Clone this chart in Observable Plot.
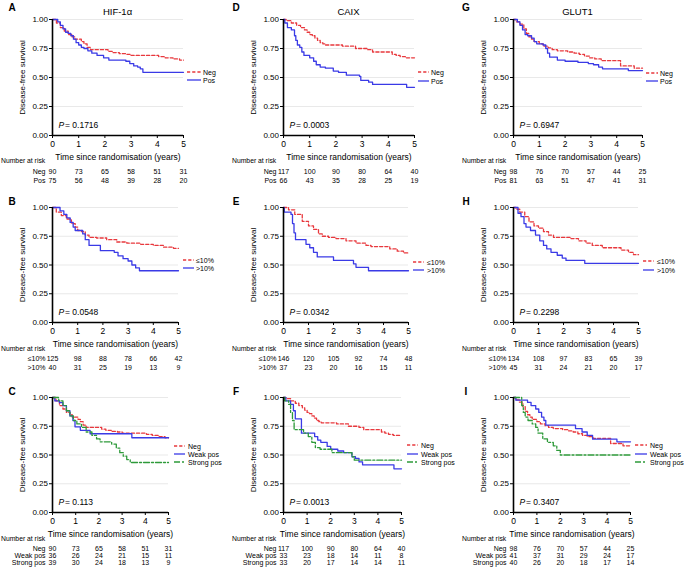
<!DOCTYPE html>
<html><head><meta charset="utf-8">
<script src="https://cdn.jsdelivr.net/npm/d3@7"></script>
<script src="https://cdn.jsdelivr.net/npm/@observablehq/plot@0.6"></script>
<style>
html,body{margin:0;padding:0;background:#fff;}
#root{position:relative;width:685px;height:569px;overflow:hidden;font-family:"Liberation Sans",Arial,sans-serif;color:#000;}
.abs{position:absolute;}
.txt{position:absolute;white-space:nowrap;line-height:1;transform:translateY(-50%);}
</style></head><body><div id="root"></div><script>
// ---------------- DATA ----------------
const riskTimes = [0, 1, 2, 3, 4, 5];
const labelsNegPos = ["Neg", "Pos"];
const labelsPct = ["\u226410%", ">10%"];
const labelsInt = ["Neg", "Weak pos", "Strong pos"];
const markerTitles = ["HIF-1\u03b1", "CAIX", "GLUT1"];
const panelLetters = ["A", "B", "C", "D", "E", "F", "G", "H", "I"];
const pValues = ["0.1716", "0.0548", "0.113", "0.0003", "0.0342", "0.0013", "0.6947", "0.2298", "0.3407"];

// HIF-1a
const hifNegT = [0,0.15,0.3,0.45,0.6,0.75,0.85,1.1,1.2,1.32,1.45,2.12,2.3,2.55,2.8,3.0,4.05,4.3,4.6,4.85,5];
const hifNegS = [1,0.97,0.93,0.90,0.87,0.85,0.83,0.81,0.79,0.76,0.74,0.725,0.715,0.705,0.70,0.69,0.68,0.67,0.66,0.65,0.65];
const hifPosT = [0,0.2,0.3,0.4,0.5,0.6,0.7,0.8,0.9,1.0,1.1,1.2,1.35,1.5,1.7,1.95,2.15,2.8,2.95,3.1,3.25,3.35,3.45,5];
const hifPosS = [1,0.98,0.95,0.92,0.89,0.88,0.86,0.83,0.80,0.78,0.76,0.75,0.73,0.71,0.69,0.67,0.65,0.64,0.62,0.60,0.59,0.575,0.545,0.545];
const hifLoT = [0,0.15,0.35,0.55,0.75,0.9,1.0,1.15,1.3,1.45,1.75,2.15,2.55,2.95,3.5,4.0,4.4,4.8,5];
const hifLoS = [1,0.96,0.93,0.90,0.86,0.83,0.80,0.79,0.76,0.74,0.735,0.72,0.70,0.69,0.68,0.67,0.655,0.645,0.645];
const hifHiT = [0,0.3,0.45,0.57,0.7,0.82,0.9,1.2,1.3,1.45,1.9,2.45,2.6,2.8,3.0,3.15,3.3,3.45,5];
const hifHiS = [1,0.97,0.94,0.91,0.87,0.83,0.80,0.77,0.72,0.67,0.625,0.61,0.58,0.555,0.535,0.50,0.475,0.45,0.45];
const hifWeakT = [0,0.1,0.3,0.45,0.6,0.75,0.88,0.97,1.2,1.62,3.42,5];
const hifWeakS = [1,0.97,0.955,0.93,0.885,0.84,0.80,0.745,0.715,0.685,0.65,0.65];
const hifStrongT = [0,0.27,0.45,0.6,0.75,0.9,1.05,1.25,1.45,1.7,1.9,2.05,2.55,2.75,2.9,3.05,3.2,3.35,5];
const hifStrongS = [1,0.97,0.93,0.885,0.84,0.80,0.77,0.74,0.70,0.67,0.64,0.615,0.595,0.56,0.52,0.49,0.46,0.435,0.435];

// CAIX
const caixNegT = [0,0.1,0.3,0.5,0.65,0.8,0.9,1.0,1.1,1.2,1.3,1.4,1.5,1.6,2.25,2.75,3.2,3.4,4.15,4.3,4.45,4.65,5];
const caixNegS = [1,0.99,0.97,0.95,0.93,0.91,0.89,0.87,0.86,0.84,0.82,0.80,0.79,0.78,0.77,0.75,0.74,0.72,0.70,0.69,0.68,0.67,0.67];
const caixPosT = [0,0.05,0.15,0.3,0.42,0.47,0.53,0.62,0.7,0.78,1.0,1.15,1.25,1.4,1.6,1.9,2.1,2.4,2.9,2.95,3.25,3.4,4.7,5];
const caixPosS = [1,0.97,0.93,0.91,0.86,0.82,0.78,0.76,0.72,0.69,0.67,0.64,0.61,0.59,0.58,0.555,0.545,0.52,0.51,0.475,0.46,0.44,0.415,0.415];
const caixLoT = [0,0.2,0.45,0.75,1.0,1.2,1.4,1.55,1.8,2.1,2.5,2.9,3.3,3.5,4.25,4.55,4.8,5];
const caixLoS = [1,0.98,0.94,0.88,0.84,0.81,0.77,0.75,0.74,0.73,0.71,0.69,0.67,0.66,0.64,0.62,0.605,0.605];
const caixHiT = [0,0.03,0.3,0.36,0.42,0.48,0.9,1.05,1.2,1.35,2.0,2.8,2.9,3.4,5];
const caixHiS = [1,0.96,0.94,0.86,0.78,0.72,0.68,0.65,0.61,0.57,0.54,0.51,0.48,0.45,0.45];
const caixWeakT = [0,0.1,0.3,0.42,0.5,0.76,1.32,1.45,1.58,1.85,2.0,2.3,2.55,2.9,3.05,3.2,3.35,4.68,5];
const caixWeakS = [1,0.97,0.94,0.885,0.815,0.69,0.66,0.63,0.61,0.575,0.55,0.535,0.52,0.485,0.47,0.44,0.415,0.38,0.38];
const caixStrongT = [0,0.05,0.22,0.3,0.38,0.45,0.85,1.05,1.2,1.35,1.55,2.05,2.9,3.0,5];
const caixStrongS = [1,0.97,0.94,0.87,0.80,0.72,0.69,0.66,0.61,0.565,0.55,0.52,0.485,0.455,0.455];

// GLUT1
const gluNegT = [0,0.1,0.25,0.4,0.5,0.6,0.7,0.8,1.0,1.15,1.35,1.5,1.7,2.1,2.35,2.55,2.75,2.95,3.15,3.4,4.15,4.68,5];
const gluNegS = [1,0.98,0.96,0.92,0.88,0.85,0.83,0.81,0.79,0.77,0.755,0.74,0.73,0.72,0.71,0.70,0.685,0.67,0.66,0.645,0.60,0.58,0.58];
const gluPosT = [0,0.15,0.25,0.35,0.45,0.55,0.7,0.8,0.9,1.15,1.25,1.32,1.4,1.7,2.0,2.5,2.9,3.1,3.3,3.45,4.45,5];
const gluPosS = [1,0.98,0.95,0.91,0.87,0.86,0.84,0.81,0.79,0.78,0.75,0.71,0.675,0.65,0.64,0.63,0.62,0.61,0.59,0.575,0.56,0.56];
const gluLoT = [0,0.1,0.25,0.45,0.62,0.82,1.0,1.2,1.4,1.6,2.3,2.6,2.9,3.15,3.55,4.3,4.6,4.8,5];
const gluLoS = [1,0.985,0.96,0.92,0.875,0.84,0.82,0.79,0.76,0.74,0.73,0.71,0.69,0.67,0.65,0.63,0.61,0.59,0.59];
const gluHiT = [0,0.18,0.3,0.42,0.5,0.68,0.88,1.05,1.2,1.33,1.5,1.75,1.95,2.1,2.85,5];
const gluHiS = [1,0.95,0.92,0.86,0.83,0.80,0.76,0.71,0.67,0.64,0.61,0.585,0.56,0.54,0.515,0.515];
const gluWeakT = [0,0.1,0.6,0.75,0.95,1.08,1.2,1.3,1.38,2.65,2.93,3.15,3.38,4.42,5];
const gluWeakS = [1,0.977,0.957,0.93,0.90,0.87,0.83,0.80,0.76,0.73,0.70,0.67,0.638,0.615,0.615];
const gluStrongT = [0,0.35,0.42,0.5,0.62,0.8,0.95,1.05,1.25,1.45,1.7,1.85,2.0,5];
const gluStrongS = [1,0.93,0.87,0.83,0.80,0.77,0.74,0.69,0.64,0.61,0.58,0.54,0.50,0.50];

// Numbers at risk
const riskA = [[90,73,65,58,51,31],[75,56,48,39,28,20]];
const riskB = [[125,98,88,78,66,42],[40,31,25,19,13,9]];
const riskC = [[90,73,65,58,51,31],[36,26,24,21,15,11],[39,30,24,18,13,9]];
const riskD = [[117,100,90,80,64,40],[66,43,35,28,25,19]];
const riskE = [[146,120,105,92,74,48],[37,23,20,16,15,11]];
const riskF = [[117,100,90,80,64,40],[33,23,18,14,11,8],[33,20,17,14,14,11]];
const riskG = [[98,76,70,57,44,25],[81,63,51,47,41,31]];
const riskH = [[134,108,97,83,65,39],[45,31,24,21,20,17]];
const riskI = [[98,76,70,57,44,25],[41,37,31,29,24,17],[40,26,20,18,17,14]];

// ---------------- LAYOUT / STYLE ----------------
const FONT = "Liberation Sans, Arial, Helvetica, sans-serif";
const seriesStyle = [
  {stroke: "#e8383d", dash: "3.2,2"},
  {stroke: "#3a3ae6", dash: null},
  {stroke: "#2e9a3a", dash: "6,2,2,2"}
];
const cols = [
  {base: 0, plotLeft: 52, hdrX: 1, letterX: 12},
  {base: 226, plotLeft: 283, hdrX: 232, letterX: 236},
  {base: 456, plotLeft: 513, hdrX: 462, letterX: 466}
];
const rows = [
  {top: 19, bottom: 135, hdrY: 161, riskY: 170, step: 9, letterY: 7.5},
  {top: 207, bottom: 322, hdrY: 349, riskY: 357.3, step: 9.4, letterY: 202},
  {top: 397, bottom: 512, hdrY: 539, riskY: 547.3, step: 7.7, letterY: 392}
];
const panels = [
  {col:0,row:0,right:183,labels:labelsNegPos,series:[[hifNegT,hifNegS],[hifPosT,hifPosS]],risk:riskA,leg:{x1:187,x2:201,tx:203,ys:[72,80]}},
  {col:0,row:1,right:178,labels:labelsPct,series:[[hifLoT,hifLoS],[hifHiT,hifHiS]],risk:riskB,leg:{x1:183,x2:194,tx:196,ys:[260,268]}},
  {col:0,row:2,right:168,labels:labelsInt,series:[[hifNegT,hifNegS],[hifWeakT,hifWeakS],[hifStrongT,hifStrongS]],risk:riskC,leg:{x1:174,x2:185,tx:188,ys:[445.7,454,462]}},
  {col:1,row:0,right:414,labels:labelsNegPos,series:[[caixNegT,caixNegS],[caixPosT,caixPosS]],risk:riskD,leg:{x1:418,x2:429,tx:431,ys:[72,81]}},
  {col:1,row:1,right:408,labels:labelsPct,series:[[caixLoT,caixLoS],[caixHiT,caixHiS]],risk:riskE,leg:{x1:413,x2:424,tx:427,ys:[262,270]}},
  {col:1,row:2,right:401,labels:labelsInt,series:[[caixNegT,caixNegS],[caixWeakT,caixWeakS],[caixStrongT,caixStrongS]],risk:riskF,leg:{x1:407,x2:418,tx:421,ys:[445,453.7,462]}},
  {col:2,row:0,right:642,labels:labelsNegPos,series:[[gluNegT,gluNegS],[gluPosT,gluPosS]],risk:riskG,leg:{x1:646,x2:658,tx:660,ys:[72.5,80.5]}},
  {col:2,row:1,right:638,labels:labelsPct,series:[[gluLoT,gluLoS],[gluHiT,gluHiS]],risk:riskH,leg:{x1:643,x2:654,tx:657,ys:[261,270]}},
  {col:2,row:2,right:630,labels:labelsInt,series:[[gluNegT,gluNegS],[gluWeakT,gluWeakS],[gluStrongT,gluStrongS]],risk:riskI,leg:{x1:635,x2:647,tx:650,ys:[445,454,462]}}
];

const root = document.getElementById("root");
function place(node, left, top) {
  const d = document.createElement("div");
  d.className = "abs"; d.style.left = left + "px"; d.style.top = top + "px";
  d.appendChild(node); root.appendChild(d); return d;
}
function label(text, x, y, opts = {}) {
  const d = document.createElement("div");
  d.className = "txt"; d.textContent = text;
  d.style.left = x + "px"; d.style.top = y + "px";
  d.style.fontSize = (opts.size || 8) + "px";
  if (opts.bold) d.style.fontWeight = "bold";
  if (opts.center) { d.style.transform = "translate(-50%,-50%)"; }
  root.appendChild(d); return d;
}

panels.forEach((p, i) => {
  const c = cols[p.col], r = rows[p.row];
  const mTop = 6, mBottom = 26, mRight = 6;
  const width = p.right - c.base + mRight;
  const mLeft = c.plotLeft - c.base;
  const height = (r.bottom - r.top) + mTop + mBottom;
  const marks = [
    Plot.gridY([0.25, 0.5, 0.75, 1], {stroke: "#e3e3e3", strokeOpacity: 1, strokeWidth: 0.8})
  ];
  p.series.forEach(([T, S], k) => {
    const data = T.map((t, j) => ({t, s: S[j]}));
    marks.push(Plot.line(data, {x: "t", y: "s", stroke: seriesStyle[k].stroke, strokeWidth: 1.3,
      strokeDasharray: seriesStyle[k].dash || undefined, curve: "step-after"}));
  });
  marks.push(
    Plot.ruleX([0], {strokeWidth: 1.6}),
    Plot.ruleY([0], {strokeWidth: 1.6}),
    Plot.axisX({ticks: riskTimes, tickFormat: d3.format("d"), tickSize: 3, tickPadding: 2, fontSize: 8.5,
      label: "Time since randomisation (years)", labelAnchor: "center", labelOffset: 24, labelArrow: "none"}),
    Plot.axisY({ticks: [0, 0.25, 0.5, 0.75, 1], tickFormat: d3.format(".2f"), tickSize: 3, tickPadding: 1.5, fontSize: 8,
      label: "Disease-free survival", labelAnchor: "center", labelOffset: 33, labelArrow: "none"}),
    Plot.text(["P"], {text: d => d, frameAnchor: "bottom-left", dx: 6, dy: -8, textAnchor: "start", fontStyle: "italic", fontSize: 8.5}),
    Plot.text([pValues[i]], {text: d => "= " + d, frameAnchor: "bottom-left", dx: 12.5, dy: -8, textAnchor: "start", fontSize: 8.5})
  );
  const km = Plot.plot({
    width, height, marginLeft: mLeft, marginRight: mRight, marginTop: mTop, marginBottom: mBottom,
    x: {domain: [0, 5]}, y: {domain: [0, 1]},
    style: {fontFamily: FONT, fontSize: "8px", background: "transparent", overflow: "visible"},
    marks
  });
  place(km, c.base, r.top - mTop);

  // risk table
  const n = p.labels.length;
  const riskData = [];
  p.risk.forEach((row, gi) => row.forEach((v, ti) => riskData.push({g: p.labels[gi], t: riskTimes[ti], n: v})));
  const rt = Plot.plot({
    width, height: n * r.step, marginLeft: mLeft, marginRight: mRight, marginTop: 0, marginBottom: 0,
    x: {domain: [0, 5], axis: null},
    y: {type: "point", domain: p.labels, padding: 0.5},
    style: {fontFamily: FONT, fontSize: "7px", background: "transparent", overflow: "visible"},
    marks: [
      Plot.text(riskData, {x: "t", y: "g", text: "n", fontSize: 7}),
      Plot.axisY({tickSize: 0, tickPadding: 7, fontSize: 7, label: null})
    ]
  });
  place(rt, c.base, r.riskY - r.step / 2);
  label("Number at risk", c.hdrX, r.hdrY, {size: 6.8});

  // legend
  const L = p.leg;
  p.labels.forEach((lab, k) => {
    const y = L.ys[k];
    const svg = d3.create("svg").attr("width", L.x2 - L.x1 + 2).attr("height", 6).style("overflow", "visible");
    svg.append("line").attr("x1", 0).attr("x2", L.x2 - L.x1).attr("y1", 3).attr("y2", 3)
      .attr("stroke", seriesStyle[k].stroke).attr("stroke-width", 1.3)
      .attr("stroke-dasharray", seriesStyle[k].dash);
    place(svg.node(), L.x1, y - 3).style.lineHeight = "0";
    label(lab, L.tx, y, {size: 7});
  });

  // panel letter
  label(panelLetters[i], c.letterX, r.letterY, {size: 10, bold: true, center: true});
  if (p.row === 0) label(markerTitles[p.col], (c.plotLeft + p.right) / 2, 12, {size: 9.5, center: true});
});
</script></body></html>
